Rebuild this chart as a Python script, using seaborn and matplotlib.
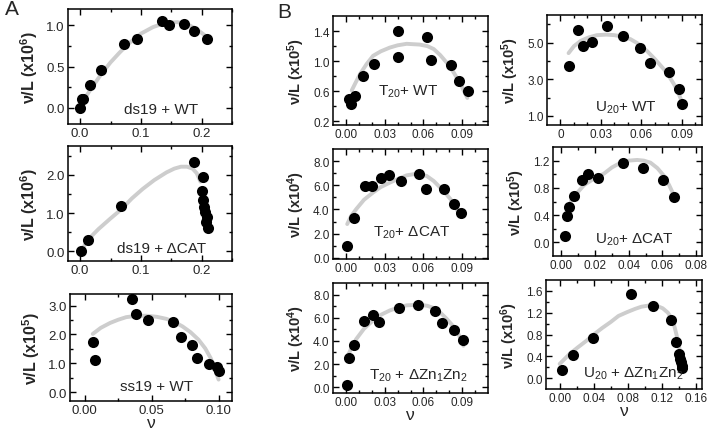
import matplotlib
matplotlib.use('Agg')
import matplotlib.pyplot as plt
import seaborn as sns

# ---- data ----
# A: ds19 + WT  (v/L x10^6)
ds19_wt_nu = [0.000, 0.003, 0.005, 0.016, 0.035, 0.072, 0.093, 0.135, 0.147, 0.171, 0.187, 0.209]
ds19_wt_vl = [0.00, 0.10, 0.11, 0.27, 0.46, 0.77, 0.84, 1.06, 1.01, 1.02, 0.93, 0.84]
ds19_wt_fit_nu = [0.001, 0.010, 0.020, 0.035, 0.050, 0.065, 0.080, 0.100, 0.120, 0.140,
                  0.160, 0.175, 0.188, 0.198, 0.207]
ds19_wt_fit_vl = [0.03, 0.14, 0.25, 0.41, 0.55, 0.67, 0.78, 0.90, 0.98, 1.03,
                  1.04, 1.02, 0.97, 0.92, 0.87]

# A: ds19 + dCAT  (v/L x10^6)
ds19_cat_nu = [0.001, 0.013, 0.068, 0.188, 0.202, 0.201, 0.203, 0.204, 0.206, 0.209, 0.208, 0.211]
ds19_cat_vl = [0.02, 0.30, 1.19, 2.34, 1.95, 1.57, 1.34, 1.15, 1.02, 0.91, 0.76, 0.60]
ds19_cat_fit_nu = [0.003, 0.015, 0.030, 0.050, 0.068, 0.085, 0.103, 0.122, 0.142, 0.155,
                   0.166, 0.176, 0.185, 0.192, 0.198]
ds19_cat_fit_vl = [0.06, 0.34, 0.58, 0.86, 1.10, 1.38, 1.63, 1.86, 2.06, 2.16,
                   2.21, 2.21, 2.16, 2.04, 1.82]

# A: ss19 + WT  (v/L x10^5)
ss19_wt_nu = [0.0065, 0.008, 0.0353, 0.038, 0.0469, 0.0656, 0.072, 0.0798, 0.084, 0.0931, 0.0985, 0.1005]
ss19_wt_vl = [1.73, 1.11, 3.23, 2.70, 2.50, 2.43, 1.90, 1.65, 1.19, 0.99, 0.87, 0.73]
ss19_wt_fit_nu = [0.006, 0.012, 0.019, 0.025, 0.031, 0.038, 0.046, 0.054, 0.061, 0.067,
                  0.073, 0.079, 0.085, 0.090, 0.094, 0.100]
ss19_wt_fit_vl = [2.02, 2.23, 2.40, 2.51, 2.60, 2.64, 2.65, 2.61, 2.54, 2.43,
                  2.28, 2.08, 1.82, 1.52, 1.19, 0.44]

# B: T20 + WT  (v/L x10^5)
t20_wt_nu = [0.002, 0.004, 0.007, 0.0135, 0.0215, 0.0406, 0.0403, 0.063, 0.066, 0.0813, 0.0873, 0.0943]
t20_wt_vl = [0.50, 0.43, 0.54, 0.80, 0.96, 1.40, 1.05, 1.32, 1.01, 0.95, 0.73, 0.60]
t20_wt_fit_nu = [0.0045, 0.008, 0.011, 0.016, 0.021, 0.027, 0.034, 0.040, 0.047, 0.057,
                 0.063, 0.068, 0.073, 0.078, 0.083, 0.088, 0.094]
t20_wt_fit_vl = [0.61, 0.73, 0.83, 0.96, 1.07, 1.13, 1.18, 1.21, 1.23, 1.22,
                 1.20, 1.16, 1.08, 0.98, 0.86, 0.72, 0.51]

# B: T20 + dCAT  (v/L x10^4)
t20_cat_nu = [0.001, 0.006, 0.0148, 0.020, 0.0272, 0.0336, 0.0424, 0.0566, 0.0618, 0.076, 0.0837, 0.0891]
t20_cat_vl = [1.01, 3.29, 5.95, 5.95, 6.58, 6.82, 6.36, 6.90, 5.67, 5.73, 4.49, 3.70]
t20_cat_fit_nu = [0.001, 0.004, 0.008, 0.014, 0.021, 0.027, 0.034, 0.041, 0.047, 0.055,
                  0.0625, 0.068, 0.073, 0.077, 0.081, 0.085, 0.088]
t20_cat_fit_vl = [2.79, 3.45, 4.03, 4.80, 5.40, 5.85, 6.22, 6.55, 6.82, 6.96,
                  6.77, 6.35, 5.81, 5.35, 4.85, 4.20, 3.48]

# B: T20 + dZn1Zn2  (v/L x10^4)
t20_zn_nu = [0.0006, 0.0024, 0.0063, 0.0143, 0.0207, 0.0256, 0.0414, 0.0561, 0.069, 0.0742, 0.084, 0.0909]
t20_zn_vl = [0.23, 2.50, 3.67, 5.70, 6.25, 5.61, 6.84, 7.13, 6.57, 5.53, 4.95, 4.07]
t20_zn_fit_nu = [0.002, 0.005, 0.008, 0.014, 0.021, 0.027, 0.034, 0.041, 0.047, 0.057,
                 0.063, 0.068, 0.073, 0.078, 0.082, 0.086, 0.091]
t20_zn_fit_vl = [2.85, 3.55, 4.16, 5.05, 5.76, 6.25, 6.63, 6.90, 7.07, 7.13,
                 7.03, 6.84, 6.45, 5.91, 5.40, 4.89, 3.58]

# B: U20 + WT  (v/L x10^5)
u20_wt_nu = [0.0062, 0.0128, 0.0165, 0.0235, 0.0346, 0.0464, 0.0588, 0.0662, 0.0802, 0.0881, 0.0901]
u20_wt_vl = [3.74, 5.67, 4.82, 5.04, 5.90, 5.36, 4.69, 3.87, 3.38, 2.48, 1.62]
u20_wt_fit_nu = [0.006, 0.010, 0.015, 0.021, 0.027, 0.034, 0.040, 0.046, 0.052, 0.058,
                 0.064, 0.070, 0.0765, 0.081, 0.084, 0.087, 0.0896]
u20_wt_fit_vl = [4.42, 4.80, 5.09, 5.28, 5.40, 5.43, 5.40, 5.32, 5.18, 4.92,
                 4.55, 4.10, 3.56, 3.10, 2.75, 2.35, 1.85]

# B: U20 + dCAT  (v/L x10^5)
u20_cat_nu = [0.002, 0.0032, 0.0047, 0.0075, 0.012, 0.016, 0.0217, 0.0365, 0.0484, 0.0604, 0.0668]
u20_cat_vl = [0.087, 0.39, 0.52, 0.68, 0.92, 1.01, 0.95, 1.17, 1.09, 0.92, 0.66]
u20_cat_fit_nu = [0.0055, 0.0095, 0.0134, 0.019, 0.0253, 0.030, 0.0352, 0.040, 0.045, 0.049,
                  0.0529, 0.057, 0.0608, 0.064, 0.0672]
u20_cat_fit_vl = [0.60, 0.73, 0.84, 0.93, 1.01, 1.10, 1.17, 1.20, 1.21, 1.20,
                  1.17, 1.09, 0.98, 0.84, 0.67]

# B: U20 + dZn1Zn2  (v/L x10^6)
u20_zn_nu = [0.003, 0.016, 0.039, 0.0835, 0.110, 0.131, 0.136, 0.140, 0.1415, 0.142, 0.143, 0.1435]
u20_zn_vl = [0.14, 0.42, 0.73, 1.55, 1.33, 1.06, 0.67, 0.44, 0.35, 0.29, 0.22, 0.18]
u20_zn_fit_nu = [0.000, 0.0115, 0.021, 0.031, 0.040, 0.050, 0.060, 0.069, 0.079, 0.0885,
                 0.096, 0.104, 0.110, 0.115, 0.121, 0.127, 0.131, 0.1346, 0.137, 0.140,
                 0.142, 0.144]
u20_zn_fit_vl = [0.26, 0.44, 0.56, 0.68, 0.80, 0.92, 1.03, 1.14, 1.21, 1.27,
                 1.31, 1.33, 1.34, 1.32, 1.28, 1.20, 1.10, 0.95, 0.80, 0.59,
                 0.42, 0.23]

# ---- style ----
sns.set_style('ticks')
plt.rcParams['font.family'] = ['Liberation Sans', 'DejaVu Sans']
plt.rcParams['mathtext.fontset'] = 'custom'
plt.rcParams['mathtext.rm'] = 'Liberation Sans'
plt.rcParams['mathtext.it'] = 'Liberation Sans:italic'
plt.rcParams['mathtext.bf'] = 'Liberation Sans:bold'

W, H = 707, 431
fig = plt.figure(figsize=(W / 100, H / 100), dpi=100)


def panel(box, nu, vl, fit_nu, fit_vl, xlim, ylim, xt, xtl, xminor, yt, ytl, yminor,
          ylabel, label, label_pos, fs_tick=8.5, fs_ylab=10.5, xlabel=False):
    left, top, right, bottom = box
    ax = fig.add_axes([left / W, 1 - bottom / H, (right - left) / W, (bottom - top) / H])
    sns.lineplot(x=fit_nu, y=fit_vl, ax=ax, color='#cdcdcd', lw=2.8,
                 sort=False, estimator=None, zorder=1)
    sns.scatterplot(x=nu, y=vl, ax=ax, color='black', s=64, edgecolor='black',
                    linewidth=0, zorder=3)
    ax.set_xlim(*xlim)
    ax.set_ylim(*ylim)
    ax.set_xticks(xt)
    ax.set_xticklabels(xtl)
    ax.set_xticks(xminor, minor=True)
    ax.set_yticks(yt)
    ax.set_yticklabels(ytl)
    ax.set_yticks(yminor, minor=True)
    ax.tick_params(which='both', direction='in', top=True, right=True,
                   width=1, labelsize=fs_tick, pad=2.5, color='black')
    ax.tick_params(which='major', length=4)
    ax.tick_params(which='minor', length=2.5)
    for sp in ax.spines.values():
        sp.set_linewidth(1.1)
        sp.set_color('black')
    ax.set_ylabel(ylabel, fontsize=fs_ylab, fontweight='bold', labelpad=4)
    ax.set_xlabel('ν' if xlabel else '', fontsize=12.5, labelpad=-1)
    ax.text(label_pos[0], label_pos[1], label, transform=ax.transAxes,
            fontsize=11, ha='left', va='baseline')
    return ax


def ylab(p):
    return r'ν/L (x10$^{\mathbf{%d}}$)' % p


# column A
panel((68, 10, 232, 125), ds19_wt_nu, ds19_wt_vl, ds19_wt_fit_nu, ds19_wt_fit_vl,
      (-0.02, 0.25), (-0.2, 1.2), [0, 0.1, 0.2], ['0.0', '0.1', '0.2'],
      [0.05, 0.15, 0.25], [0, 0.5, 1.0], ['0.0', '0.5', '1.0'], [0.25, 0.75],
      ylab(6), 'ds19 + WT', (0.34, 0.10), fs_tick=9.5, fs_ylab=11.5)
panel((68, 147, 232, 262), ds19_cat_nu, ds19_cat_vl, ds19_cat_fit_nu, ds19_cat_fit_vl,
      (-0.02, 0.25), (-0.25, 2.75), [0, 0.1, 0.2], ['0.0', '0.1', '0.2'],
      [0.05, 0.15, 0.25], [0, 1.0, 2.0], ['0.0', '1.0', '2.0'], [0.5, 1.5, 2.5],
      ylab(6), 'ds19 + ΔCAT', (0.30, 0.08), fs_tick=9.5, fs_ylab=11.5)
panel((70, 295, 232, 402), ss19_wt_nu, ss19_wt_vl, ss19_wt_fit_nu, ss19_wt_fit_vl,
      (-0.011, 0.11), (-0.3, 3.4), [0, 0.05, 0.10], ['0.00', '0.05', '0.10'],
      [0.025, 0.075], [0, 1.0, 2.0, 3.0], ['0.0', '1.0', '2.0', '3.0'], [0.5, 1.5, 2.5],
      ylab(5), 'ss19 + WT', (0.31, 0.10), fs_tick=9.5, fs_ylab=11.5, xlabel=True)

# column B, left
bx_t = [0, 0.03, 0.06, 0.09]
bx_tl = ['0.00', '0.03', '0.06', '0.09']
bx_min = [0.01, 0.02, 0.04, 0.05, 0.07, 0.08, 0.10]
panel((333, 17, 488, 126), t20_wt_nu, t20_wt_vl, t20_wt_fit_nu, t20_wt_fit_vl,
      (-0.01, 0.11), (0.15, 1.6), bx_t, bx_tl, bx_min,
      [0.2, 0.6, 1.0, 1.4], ['0.2', '0.6', '1.0', '1.4'], [0.4, 0.8, 1.2],
      ylab(5), r'T$_{20}$+ WT', (0.29, 0.28))
panel((333, 150, 488, 260), t20_cat_nu, t20_cat_vl, t20_cat_fit_nu, t20_cat_fit_vl,
      (-0.01, 0.11), (-0.1, 9.0), bx_t, bx_tl, bx_min,
      [0, 2, 4, 6, 8], ['0.0', '2.0', '4.0', '6.0', '8.0'], [1, 3, 5, 7],
      ylab(4), r'T$_{20}$+ ΔCAT', (0.26, 0.21))
panel((333, 284, 488, 394), t20_zn_nu, t20_zn_vl, t20_zn_fit_nu, t20_zn_fit_vl,
      (-0.01, 0.11), (-0.5, 9.0), bx_t, bx_tl, bx_min,
      [0, 2, 4, 6, 8], ['0.0', '2.0', '4.0', '6.0', '8.0'], [1, 3, 5, 7],
      ylab(4), r'T$_{20}$ + ΔZn$_1$Zn$_2$', (0.23, 0.13), xlabel=True)

# column B, right
panel((547, 16, 702, 126), u20_wt_nu, u20_wt_vl, u20_wt_fit_nu, u20_wt_fit_vl,
      (-0.01, 0.105), (0.5, 6.5), bx_t, ['0', '0.03', '0.06', '0.09'], bx_min,
      [1, 3, 5], ['1.0', '3.0', '5.0'], [2, 4, 6],
      ylab(5), r'U$_{20}$+ WT', (0.31, 0.13))
panel((553, 148, 702, 257), u20_cat_nu, u20_cat_vl, u20_cat_fit_nu, u20_cat_fit_vl,
      (-0.005, 0.0835), (-0.2, 1.4), [0, 0.02, 0.04, 0.06, 0.08],
      ['0.00', '0.02', '0.04', '0.06', '0.08'], [0.01, 0.03, 0.05, 0.07],
      [0, 0.4, 0.8, 1.2], ['0.0', '0.4', '0.8', '1.2'], [0.2, 0.6, 1.0],
      ylab(5), r'U$_{20}$+ ΔCAT', (0.28, 0.12))
panel((546, 281, 702, 390), u20_zn_nu, u20_zn_vl, u20_zn_fit_nu, u20_zn_fit_vl,
      (-0.016, 0.167), (-0.2, 1.8), [0, 0.04, 0.08, 0.12, 0.16],
      ['0.00', '0.04', '0.08', '0.12', '0.16'], [0.02, 0.06, 0.10, 0.14],
      [0, 0.4, 0.8, 1.2, 1.6], ['0.0', '0.4', '0.8', '1.2', '1.6'], [0.2, 0.6, 1.0, 1.4],
      ylab(6), r'U$_{20}$ + ΔZn$_1$Zn$_2$', (0.24, 0.11), xlabel=True)

fig.text(5 / W, 1 - 15 / H, 'A', fontsize=15)
fig.text(277 / W, 1 - 18 / H, 'B', fontsize=15)

fig.savefig('out.png', dpi=100)
